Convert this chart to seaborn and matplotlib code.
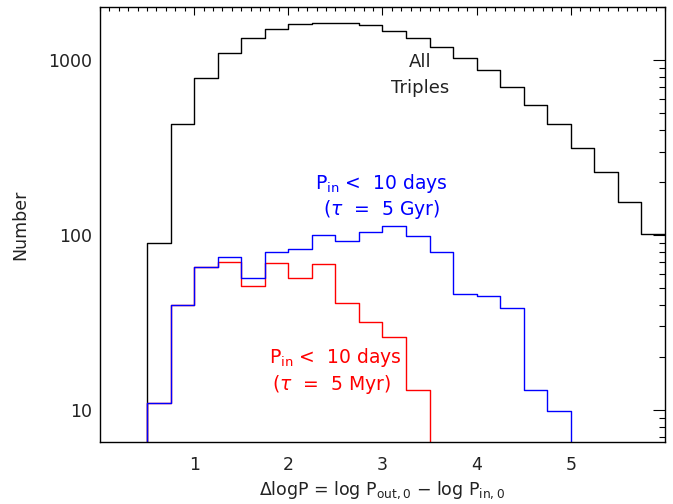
import numpy as np
import pandas as pd
import matplotlib
matplotlib.use("Agg")
import matplotlib.pyplot as plt
from matplotlib.ticker import MultipleLocator, LogLocator, NullFormatter, FixedLocator
import seaborn as sns

# Histogram bins in Delta log P (width 0.25); the first bin (0.25-0.5) is empty
bin_edges = np.arange(0.25, 6.0001, 0.25)
bin_centers = 0.5 * (bin_edges[:-1] + bin_edges[1:])

all_triples = [0, 90, 432, 793, 1096, 1336, 1504, 1611, 1635, 1630, 1578,
               1469, 1330, 1191, 1022, 873, 703, 556, 431, 314, 228, 155, 101]
short_5gyr = [0, 11, 40, 66, 75, 57, 80, 83, 100, 92, 104,
              113, 99, 80, 46, 45, 38, 13, 9.9, 0, 0, 0, 0]
short_5myr = [0, 11, 40, 66, 70, 51, 69, 57, 68, 41, 32,
              26, 13, 0, 0, 0, 0, 0, 0, 0, 0, 0, 0]

x_ticks = [1, 2, 3, 4, 5]
y_ticks = [10, 100, 1000]

sns.set_style("white")
plt.rcParams["font.family"] = ["DejaVu Sans"]
plt.rcParams["mathtext.fontset"] = "dejavusans"

fig = plt.figure(figsize=(6.73, 5.04), dpi=100)
ax = fig.add_axes([0.1486, 0.123, 0.8394, 0.863])

series = [(all_triples, "black"), (short_5myr, "red"), (short_5gyr, "blue")]
for counts, color in series:
    df = pd.DataFrame({"dlogp": bin_centers, "n": np.asarray(counts, dtype=float)})
    sns.histplot(data=df, x="dlogp", weights="n", bins=list(bin_edges),
                 element="step", fill=False, color=color, linewidth=1.0, ax=ax)

ax.set_yscale("log", nonpositive="clip")
ax.set_xlim(0, 6)
ax.set_ylim(6.55, 2010)

ax.xaxis.set_major_locator(FixedLocator(x_ticks))
ax.xaxis.set_minor_locator(MultipleLocator(0.1))
ax.yaxis.set_major_locator(FixedLocator(y_ticks))
ax.yaxis.set_minor_locator(LogLocator(base=10, subs=np.arange(2, 10)))
ax.yaxis.set_minor_formatter(NullFormatter())
ax.set_yticklabels([str(v) for v in y_ticks])
ax.set_xticklabels([str(v) for v in x_ticks])

ax.tick_params(axis="both", which="both", direction="in", top=True, right=True,
               color="black", width=0.8, labelsize=12.5, labelcolor="#222222")
ax.tick_params(axis="x", which="major", length=5.8, pad=10)
ax.tick_params(axis="x", which="minor", length=2.9)
ax.tick_params(axis="y", which="major", length=8.6, pad=6)
ax.tick_params(axis="y", which="minor", length=4.3)
for s in ax.spines.values():
    s.set_color("black")
    s.set_linewidth(1.0)

ax.set_xlabel(r"$\Delta$logP = log P$_{\rm out,0}$ $-$ log P$_{\rm in,0}$",
              fontsize=12.5, color="#222222", labelpad=4)
ax.set_ylabel("Number", fontsize=12.5, color="#222222", labelpad=13)

ax.text(3.4, 980, "All", ha="center", va="center", fontsize=13, color="#222222")
ax.text(3.4, 692, "Triples", ha="center", va="center", fontsize=13, color="#222222")
ax.text(2.99, 198, r"P$_{\rm in}$ <  10 days", ha="center", va="center",
        fontsize=13.5, color="blue")
ax.text(2.99, 139, r"($\tau$  =  5 Gyr)", ha="center", va="center",
        fontsize=13.5, color="blue")
ax.text(2.5, 19.8, r"P$_{\rm in}$ <  10 days", ha="center", va="center",
        fontsize=13.5, color="red")
ax.text(2.46, 13.9, r"($\tau$  =  5 Myr)", ha="center", va="center",
        fontsize=13.5, color="red")

fig.savefig("out.png", dpi=100, facecolor="white")
